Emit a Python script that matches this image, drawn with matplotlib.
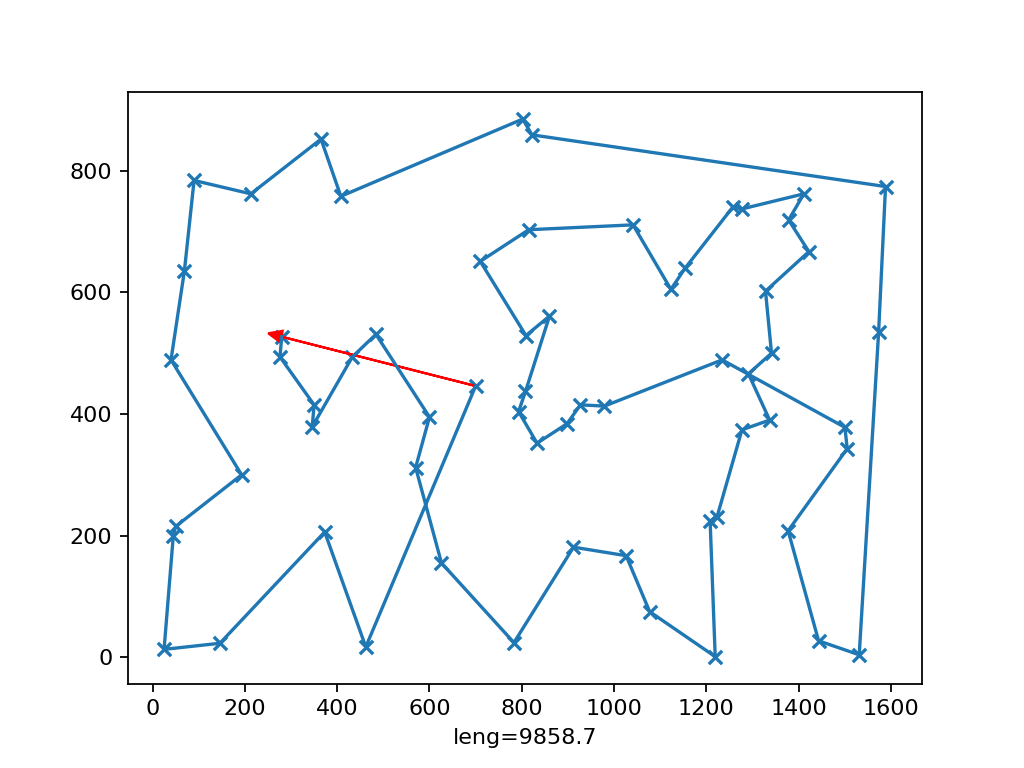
import matplotlib
matplotlib.use('Agg')
import matplotlib.pyplot as plt


# tour order (x, y of each city)
xs = [280, 276, 350, 346, 433, 484, 600, 570, 626, 783,
      912, 1026, 1077, 1219, 1208, 1223, 1277, 1337, 1291, 1341,
      1328, 1422, 1378, 1411, 1276, 1258, 1154, 1123, 1041, 815,
      710, 809, 860, 808, 793, 833, 898, 927, 979, 1234,
      1500, 1505, 1377, 1443, 1531, 1573, 1588, 822, 802, 408,
      365, 213, 90, 69, 40, 193, 50, 45, 25, 146,
      373, 462, 700]
ys = [527, 494, 415, 379, 494, 531, 395, 312, 155, 24,
      181, 167, 75, 1, 224, 231, 374, 390, 466, 500,
      602, 667, 719, 762, 737, 741, 640, 605, 711, 703,
      651, 529, 561, 437, 404, 352, 384, 415, 413, 489,
      378, 343, 208, 27, 4, 534, 774, 859, 885, 758,
      852, 762, 784, 635, 489, 300, 215, 200, 13, 23,
      206, 17, 446]
tourLength = 9858.7


def main():
    fig, ax = plt.subplots(figsize=(6.4, 4.8), dpi=160)

    # cities, then the route through them
    plt.scatter(xs, ys, marker='x')
    plt.plot(xs, ys)

    # closing leg drawn as an arrow back to the start
    plt.arrow(xs[-1], ys[-1], xs[0] - xs[-1], ys[0] - ys[-1],
              head_width=20, color='r')

    plt.xlabel(f'leng={tourLength}')

    plt.savefig('out.png')


if (__name__ == '__main__'):
    main()
